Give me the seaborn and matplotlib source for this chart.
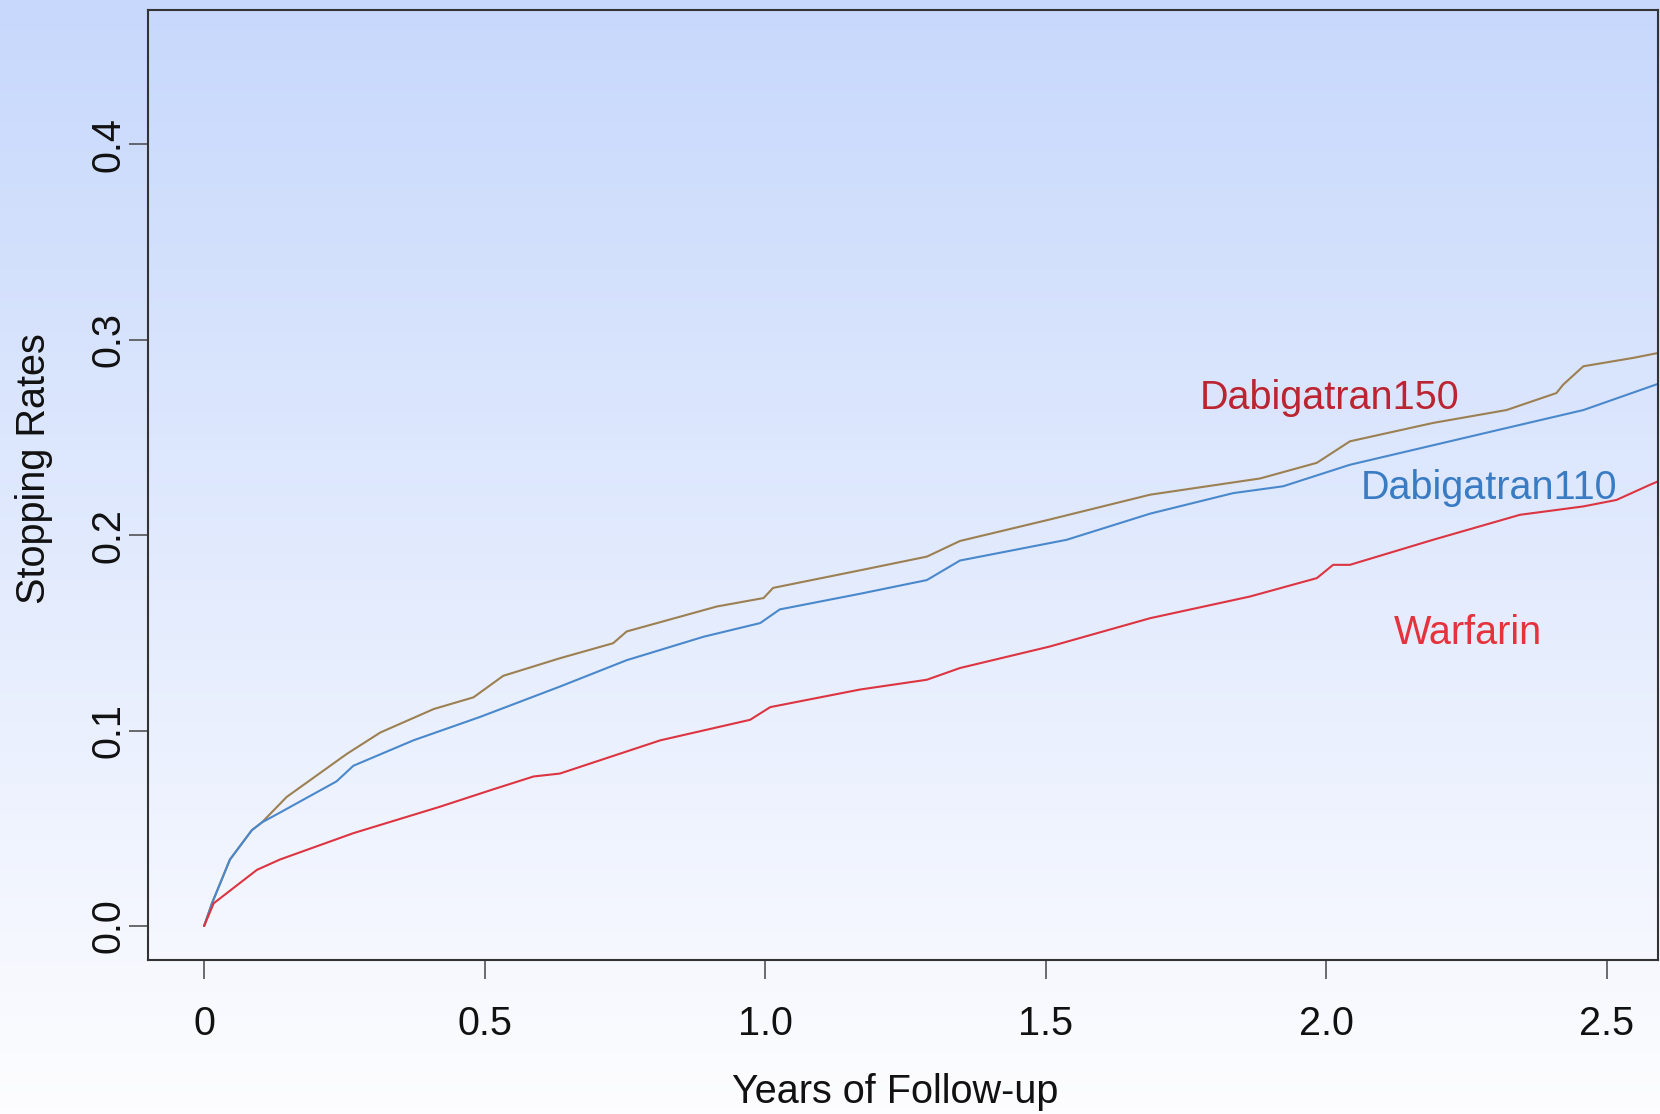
import numpy as np
import pandas as pd
import matplotlib
matplotlib.use('Agg')
import matplotlib.pyplot as plt
import seaborn as sns

# Values (years, cumulative stopping rate)
d150_years = [0.0, 0.014, 0.046, 0.085, 0.103, 0.147, 0.254, 0.314, 0.409, 0.480, 0.533, 0.634,
              0.729, 0.753, 0.914, 0.997, 1.014, 1.169, 1.288, 1.347, 1.507, 1.686, 1.882, 1.983,
              2.042, 2.190, 2.321, 2.410, 2.422, 2.458, 2.547, 2.591]
d150_rates = [0.0, 0.0116, 0.034, 0.049, 0.053, 0.066, 0.088, 0.099, 0.111, 0.117, 0.128, 0.137,
              0.1447, 0.1507, 0.1635, 0.1678, 0.173, 0.182, 0.189, 0.197, 0.208, 0.2207, 0.229, 0.237,
              0.248, 0.2574, 0.264, 0.2727, 0.277, 0.2864, 0.2907, 0.2932]

d110_years = [0.0, 0.014, 0.046, 0.085, 0.103, 0.135, 0.236, 0.266, 0.373, 0.492, 0.634, 0.753,
              0.890, 0.991, 1.026, 1.169, 1.288, 1.347, 1.537, 1.686, 1.834, 1.923, 2.042, 2.131,
              2.309, 2.458, 2.591]
d110_rates = [0.0, 0.0116, 0.034, 0.049, 0.053, 0.058, 0.074, 0.082, 0.095, 0.107, 0.1225, 0.136,
              0.148, 0.155, 0.162, 0.170, 0.177, 0.187, 0.1976, 0.211, 0.2215, 0.225, 0.236, 0.242,
              0.254, 0.264, 0.2774]

warf_years = [0.0, 0.017, 0.094, 0.135, 0.266, 0.420, 0.516, 0.587, 0.634, 0.813, 0.973, 1.009,
              1.169, 1.288, 1.347, 1.507, 1.686, 1.864, 1.983, 2.012, 2.042, 2.190, 2.345, 2.458,
              2.517, 2.577, 2.591]
warf_rates = [0.0, 0.0116, 0.0287, 0.034, 0.0475, 0.061, 0.070, 0.0765, 0.078, 0.095, 0.1055, 0.112,
              0.121, 0.126, 0.132, 0.143, 0.1575, 0.1686, 0.178, 0.1848, 0.1848, 0.1976, 0.2104, 0.2147,
              0.218, 0.2258, 0.2275]

x_ticks = [0, 0.5, 1.0, 1.5, 2.0, 2.5]
x_tick_labels = ['0', '0.5', '1.0', '1.5', '2.0', '2.5']
y_ticks = [0.0, 0.1, 0.2, 0.3, 0.4]
y_tick_labels = ['0.0', '0.1', '0.2', '0.3', '0.4']

series = [
    ('Dabigatran150', d150_years, d150_rates, '#9c8052', '#bb2430', (2.006, 0.270)),
    ('Dabigatran110', d110_years, d110_rates, '#4a88cc', '#3a7cc4', (2.290, 0.224)),
    ('Warfarin', warf_years, warf_rates, '#dc3440', '#e6323c', (2.253, 0.150)),
]

sns.set_style('ticks')
plt.rcParams['font.family'] = ['Liberation Sans', 'DejaVu Sans']
FS = 28.5

fig = plt.figure(figsize=(16.6, 11.14), dpi=100)

# background gradient over the whole figure
bg = fig.add_axes([0, 0, 1, 1], zorder=-1)
top = np.array([199, 216, 252]) / 255
bottom = np.array([253, 253, 255]) / 255
t = np.linspace(0, 1, 256)[:, None]
grad = top * (1 - t) + bottom * t
bg.imshow(grad[:, None, :].repeat(2, axis=1), aspect='auto', extent=[0, 1, 0, 1])
bg.axis('off')

ax = fig.add_axes([148 / 1660, 1 - 960 / 1114, 1510 / 1660, 950 / 1114])
ax.set_facecolor('none')

for name, xs, ys, lc, tc, pos in series:
    df = pd.DataFrame({'years': xs, 'rate': ys})
    sns.lineplot(data=df, x='years', y='rate', ax=ax, color=lc, linewidth=1.5,
                 estimator=None, sort=False)
    ax.text(pos[0], pos[1], name, color=tc, fontsize=FS, ha='center', va='center')

ax.set_xlim(-0.1, 2.591)
ax.set_ylim(-0.0174, 0.4687)
ax.set_xticks(x_ticks)
ax.set_xticklabels(x_tick_labels)
ax.set_yticks(y_ticks)
ax.set_yticklabels(y_tick_labels, rotation=90, va='center')

for s in ax.spines.values():
    s.set_color('#333333')
    s.set_linewidth(1.5)
ax.tick_params(axis='both', direction='out', length=13.5, width=1.1, color='#444444',
               labelsize=FS, labelcolor='#111111')
ax.tick_params(axis='x', pad=19)
ax.tick_params(axis='y', pad=1)

ax.set_xlabel('Years of Follow-up', fontsize=FS, color='#111111')
ax.set_ylabel('Stopping Rates', fontsize=FS, color='#111111')
ax.xaxis.label.set_va('center')
ax.yaxis.label.set_va('center')
ax.xaxis.set_label_coords(0.495, -0.139)
ax.yaxis.set_label_coords(-0.0755, 0.517)

fig.savefig('out.png', dpi=100)
